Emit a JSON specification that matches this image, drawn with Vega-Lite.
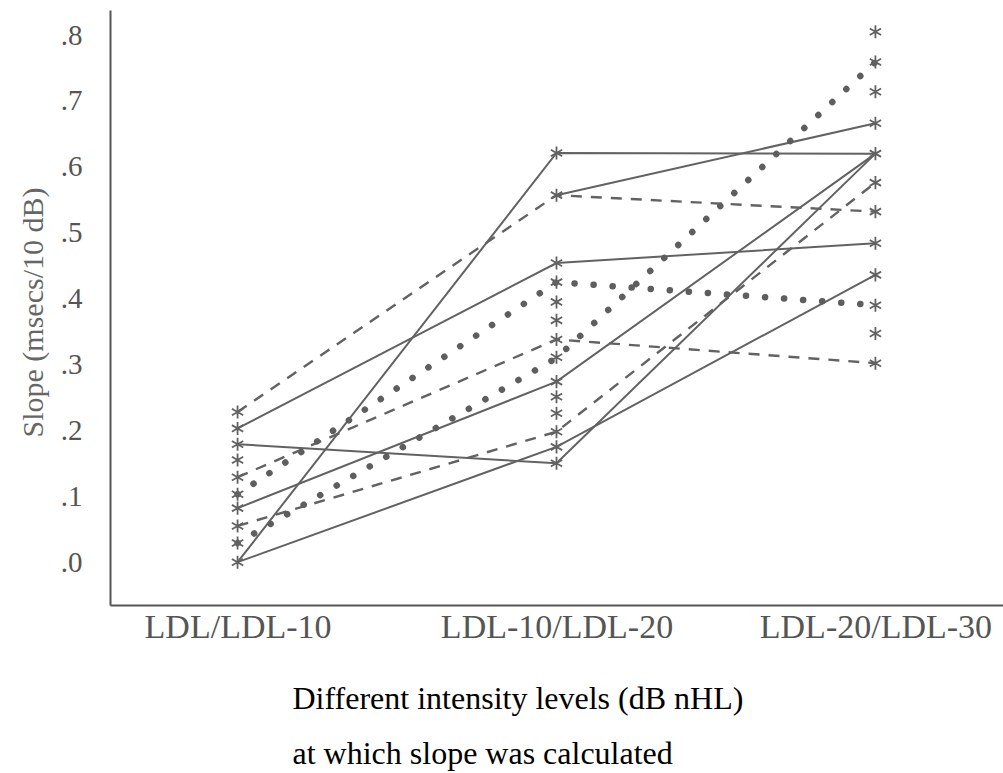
{
  "$schema": "https://vega.github.io/schema/vega-lite/v6.json",
  "width": 893,
  "height": 595,
  "autosize": {"type": "none"},
  "padding": {"left": 110, "top": 10, "right": 0, "bottom": 168},
  "background": "white",
  "config": {"view": {"stroke": null}, "font": "Liberation Serif"},
  "datasets": {
    "lines": [
      {"s": "S1", "style": "solid", "level": "LDL/LDL-10", "v": 0.203},
      {"s": "S1", "style": "solid", "level": "LDL-10/LDL-20", "v": 0.454},
      {"s": "S1", "style": "solid", "level": "LDL-20/LDL-30", "v": 0.484},
      {"s": "S2", "style": "solid", "level": "LDL/LDL-10", "v": 0.0},
      {"s": "S2", "style": "solid", "level": "LDL-10/LDL-20", "v": 0.621},
      {"s": "S2", "style": "solid", "level": "LDL-20/LDL-30", "v": 0.62},
      {"s": "S3", "style": "solid", "level": "LDL/LDL-10", "v": 0.179},
      {"s": "S3", "style": "solid", "level": "LDL-10/LDL-20", "v": 0.15},
      {"s": "S3", "style": "solid", "level": "LDL-20/LDL-30", "v": 0.62},
      {"s": "S4", "style": "solid", "level": "LDL/LDL-10", "v": 0.082},
      {"s": "S4", "style": "solid", "level": "LDL-10/LDL-20", "v": 0.274},
      {"s": "S4", "style": "solid", "level": "LDL-20/LDL-30", "v": 0.62},
      {"s": "S5", "style": "solid", "level": "LDL/LDL-10", "v": 0.0},
      {"s": "S5", "style": "solid", "level": "LDL-10/LDL-20", "v": 0.175},
      {"s": "S5", "style": "solid", "level": "LDL-20/LDL-30", "v": 0.436},
      {"s": "S6", "style": "solid", "level": "LDL-10/LDL-20", "v": 0.557},
      {"s": "S6", "style": "solid", "level": "LDL-20/LDL-30", "v": 0.666},
      {"s": "D1", "style": "dashed", "level": "LDL/LDL-10", "v": 0.228},
      {"s": "D1", "style": "dashed", "level": "LDL-10/LDL-20", "v": 0.557},
      {"s": "D1", "style": "dashed", "level": "LDL-20/LDL-30", "v": 0.532},
      {"s": "D2", "style": "dashed", "level": "LDL/LDL-10", "v": 0.129},
      {"s": "D2", "style": "dashed", "level": "LDL-10/LDL-20", "v": 0.338},
      {"s": "D2", "style": "dashed", "level": "LDL-20/LDL-30", "v": 0.302},
      {"s": "D3", "style": "dashed", "level": "LDL/LDL-10", "v": 0.055},
      {"s": "D3", "style": "dashed", "level": "LDL-10/LDL-20", "v": 0.198},
      {"s": "D3", "style": "dashed", "level": "LDL-20/LDL-30", "v": 0.576},
      {"s": "B1", "style": "dotted", "level": "LDL/LDL-10", "v": 0.103},
      {"s": "B1", "style": "dotted", "level": "LDL-10/LDL-20", "v": 0.425},
      {"s": "B1", "style": "dotted", "level": "LDL-20/LDL-30", "v": 0.39},
      {"s": "B2", "style": "dotted", "level": "LDL/LDL-10", "v": 0.029},
      {"s": "B2", "style": "dotted", "level": "LDL-10/LDL-20", "v": 0.31},
      {"s": "B2", "style": "dotted", "level": "LDL-20/LDL-30", "v": 0.759}
    ],
    "stars": [
      {"level": "LDL/LDL-10", "v": 0.228},
      {"level": "LDL/LDL-10", "v": 0.203},
      {"level": "LDL/LDL-10", "v": 0.179},
      {"level": "LDL/LDL-10", "v": 0.155},
      {"level": "LDL/LDL-10", "v": 0.129},
      {"level": "LDL/LDL-10", "v": 0.103},
      {"level": "LDL/LDL-10", "v": 0.082},
      {"level": "LDL/LDL-10", "v": 0.055},
      {"level": "LDL/LDL-10", "v": 0.029},
      {"level": "LDL/LDL-10", "v": 0.0},
      {"level": "LDL-10/LDL-20", "v": 0.621},
      {"level": "LDL-10/LDL-20", "v": 0.557},
      {"level": "LDL-10/LDL-20", "v": 0.454},
      {"level": "LDL-10/LDL-20", "v": 0.425},
      {"level": "LDL-10/LDL-20", "v": 0.395},
      {"level": "LDL-10/LDL-20", "v": 0.367},
      {"level": "LDL-10/LDL-20", "v": 0.338},
      {"level": "LDL-10/LDL-20", "v": 0.311},
      {"level": "LDL-10/LDL-20", "v": 0.274},
      {"level": "LDL-10/LDL-20", "v": 0.251},
      {"level": "LDL-10/LDL-20", "v": 0.226},
      {"level": "LDL-10/LDL-20", "v": 0.198},
      {"level": "LDL-10/LDL-20", "v": 0.175},
      {"level": "LDL-10/LDL-20", "v": 0.15},
      {"level": "LDL-20/LDL-30", "v": 0.805},
      {"level": "LDL-20/LDL-30", "v": 0.759},
      {"level": "LDL-20/LDL-30", "v": 0.714},
      {"level": "LDL-20/LDL-30", "v": 0.666},
      {"level": "LDL-20/LDL-30", "v": 0.62},
      {"level": "LDL-20/LDL-30", "v": 0.576},
      {"level": "LDL-20/LDL-30", "v": 0.532},
      {"level": "LDL-20/LDL-30", "v": 0.484},
      {"level": "LDL-20/LDL-30", "v": 0.436},
      {"level": "LDL-20/LDL-30", "v": 0.39},
      {"level": "LDL-20/LDL-30", "v": 0.347},
      {"level": "LDL-20/LDL-30", "v": 0.302}
    ]
  },
  "encoding": {
    "x": {
      "field": "level",
      "type": "ordinal",
      "scale": {"domain": ["LDL/LDL-10", "LDL-10/LDL-20", "LDL-20/LDL-30"], "padding": 0.4},
      "axis": {
        "title": ["Different intensity levels (dB nHL)", "at which slope was calculated"],
        "labelAngle": 0,
        "ticks": false,
        "tickSize": 0,
        "labelPadding": 5,
        "labelLimit": 500,
        "labelFont": "Liberation Serif",
        "labelFontSize": 34,
        "labelColor": "#555555",
        "labelOverlap": false,
        "domainColor": "#555555",
        "domainWidth": 2,
        "grid": false,
        "titleFont": "Liberation Serif",
        "titleFontSize": 32,
        "titleFontWeight": "normal",
        "titleColor": "#000000",
        "titleLineHeight": 55,
        "titleX": 182,
        "titleY": 103,
        "titleAlign": "left",
        "titleAnchor": "start",
        "titleBaseline": "alphabetic",
        "titleLimit": 800
      }
    },
    "y": {
      "field": "v",
      "type": "quantitative",
      "scale": {"domain": [-0.065, 0.838], "nice": false, "zero": false},
      "axis": {
        "title": "Slope (msecs/10 dB)",
        "values": [0, 0.1, 0.2, 0.3, 0.4, 0.5, 0.6, 0.7, 0.8],
        "labelExpr": "replace(format(datum.value, '.1f'), '0.', '.')",
        "ticks": false,
        "tickSize": 0,
        "labelPadding": 28,
        "labelFont": "Liberation Serif",
        "labelFontSize": 29,
        "labelColor": "#555555",
        "domainColor": "#555555",
        "domainWidth": 2,
        "grid": false,
        "titleFont": "Liberation Serif",
        "titleFontSize": 30,
        "titleFontWeight": "normal",
        "titleColor": "#666666",
        "titleX": -77,
        "titleY": 302,
        "titleAngle": -90,
        "titleAlign": "center",
        "titleBaseline": "middle",
        "titleLimit": 600
      }
    }
  },
  "layer": [
    {
      "data": {"name": "lines"},
      "transform": [{"filter": "datum.style == 'solid'"}],
      "mark": {"type": "line", "stroke": "#626262", "strokeWidth": 2},
      "encoding": {"detail": {"field": "s"}, "order": {"value": null}}
    },
    {
      "data": {"name": "lines"},
      "transform": [{"filter": "datum.style == 'dashed'"}],
      "mark": {"type": "line", "stroke": "#626262", "strokeWidth": 2.4, "strokeDash": [11, 9]},
      "encoding": {"detail": {"field": "s"}, "order": {"value": null}}
    },
    {
      "data": {"name": "lines"},
      "transform": [{"filter": "datum.style == 'dotted'"}],
      "mark": {"type": "line", "stroke": "#5e5e5e", "strokeWidth": 6.5, "strokeCap": "round", "strokeDash": [0.1, 19]},
      "encoding": {"detail": {"field": "s"}, "order": {"value": null}}
    },
    {
      "data": {"name": "stars"},
      "mark": {"type": "point", "shape": "M0,-1L0,1M-0.87,-0.5L0.87,0.5M-0.87,0.5L0.87,-0.5", "filled": false, "stroke": "#626262", "strokeWidth": 1.8, "size": 170, "opacity": 1}
    }
  ]
}
